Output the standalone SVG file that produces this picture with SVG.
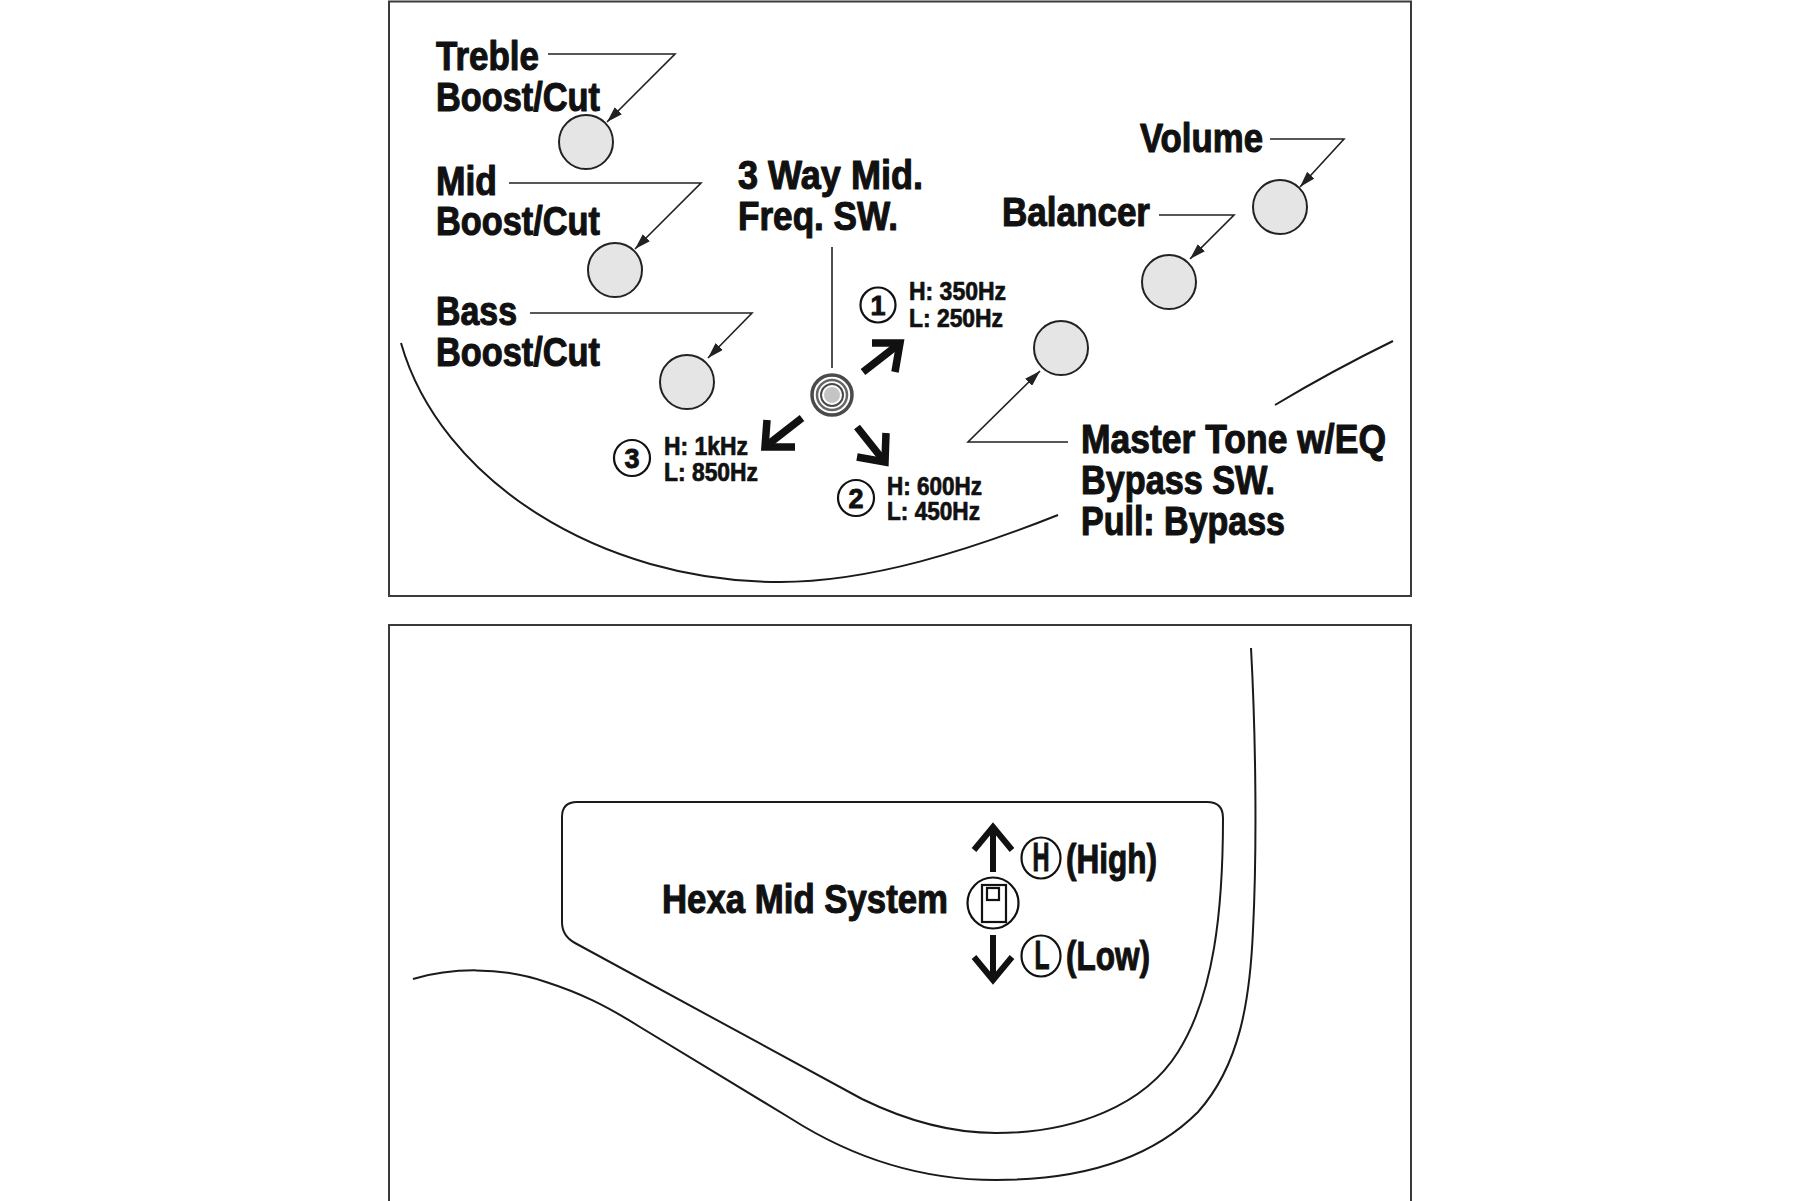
<svg xmlns="http://www.w3.org/2000/svg" width="1800" height="1201" viewBox="0 0 1800 1201">
<defs>
<style>
.frame{fill:none;stroke:#3a3a3a;stroke-width:2}
.body{fill:none;stroke:#1a1a1a;stroke-width:2}
.lbl{font-family:"Liberation Sans Narrow","Liberation Sans",Arial,sans-serif;font-weight:700;font-size:40px;fill:#111;stroke:#111;stroke-width:1.1;stroke-linejoin:round}
.sm{font-family:"Liberation Sans Narrow","Liberation Sans",Arial,sans-serif;font-weight:700;font-size:25px;fill:#111;stroke:#111;stroke-width:0.7;stroke-linejoin:round}
.num{font-family:"Liberation Sans","DejaVu Sans",sans-serif;font-weight:700;font-size:27px;fill:#111;stroke:#111;stroke-width:0.9}
.knob{fill:#e5e5e5;stroke:#222;stroke-width:2}
.lead{fill:none;stroke:#222;stroke-width:1.6}
.thick{fill:none;stroke:#111;stroke-width:7.5;stroke-linejoin:miter;stroke-linecap:butt}
.thin{fill:none;stroke:#111;stroke-width:2.2}
</style>
<marker id="ah" viewBox="0 0 16 10" refX="16" refY="5" markerWidth="16" markerHeight="10" markerUnits="userSpaceOnUse" orient="auto">
<path d="M0,0 L16,5 L0,10 Z" fill="#222"/>
</marker>
</defs>
<rect x="0" y="0" width="1800" height="1201" fill="#fff"/>

<g id="top-panel">
<rect class="frame" x="389" y="1.5" width="1022" height="594.5"/>
<path class="body" d="M401,343 C440,480 600,582 780,582 C870,582 970,550 1058,515"/>
<path class="body" d="M1275,405 C1310,384 1350,362 1393,341"/>
</g>

<g id="connectors">
<path class="lead" d="M548,54 H675 L607,122" marker-end="url(#ah)"/>
<path class="lead" d="M509,183 H701 L635,249" marker-end="url(#ah)"/>
<path class="lead" d="M530,313 H752 L708,358" marker-end="url(#ah)"/>
<path class="lead" d="M1270,139 H1344 L1300,187" marker-end="url(#ah)"/>
<path class="lead" d="M1159,215 H1234 L1190,259" marker-end="url(#ah)"/>
<path class="lead" d="M1068,442 H968 L1040,371" marker-end="url(#ah)"/>
<path class="lead" d="M832,247 V368"/>
</g>

<g id="treble">
<circle class="knob" cx="586" cy="142" r="27"/>
<text class="lbl" x="436" y="70" textLength="103" lengthAdjust="spacingAndGlyphs">Treble</text>
<text class="lbl" x="436" y="111" textLength="164" lengthAdjust="spacingAndGlyphs">Boost/Cut</text>
</g>
<g id="mid">
<circle class="knob" cx="615" cy="270" r="27"/>
<text class="lbl" x="436" y="195" textLength="61" lengthAdjust="spacingAndGlyphs">Mid</text>
<text class="lbl" x="436" y="235" textLength="164" lengthAdjust="spacingAndGlyphs">Boost/Cut</text>
</g>
<g id="bass">
<circle class="knob" cx="687" cy="382" r="27"/>
<text class="lbl" x="436" y="325" textLength="81" lengthAdjust="spacingAndGlyphs">Bass</text>
<text class="lbl" x="436" y="366" textLength="164" lengthAdjust="spacingAndGlyphs">Boost/Cut</text>
</g>
<g id="volume">
<circle class="knob" cx="1280" cy="207" r="27"/>
<text class="lbl" x="1140" y="152" textLength="123" lengthAdjust="spacingAndGlyphs">Volume</text>
</g>
<g id="balancer">
<circle class="knob" cx="1169" cy="282" r="27"/>
<text class="lbl" x="1002" y="226" textLength="148" lengthAdjust="spacingAndGlyphs">Balancer</text>
</g>
<g id="master-tone">
<circle class="knob" cx="1061" cy="348" r="27"/>
<text class="lbl" x="1081" y="453" textLength="305" lengthAdjust="spacingAndGlyphs">Master Tone w/EQ</text>
<text class="lbl" x="1081" y="494" textLength="194" lengthAdjust="spacingAndGlyphs">Bypass SW.</text>
<text class="lbl" x="1081" y="535" textLength="204" lengthAdjust="spacingAndGlyphs">Pull: Bypass</text>
</g>

<g id="three-way-switch">
<text class="lbl" x="738" y="189" textLength="185" lengthAdjust="spacingAndGlyphs">3 Way Mid.</text>
<text class="lbl" x="738" y="230" textLength="160" lengthAdjust="spacingAndGlyphs">Freq. SW.</text>
<circle cx="832" cy="395" r="20" fill="none" stroke="#4a4a4a" stroke-width="3.5"/>
<circle cx="832" cy="395" r="15" fill="none" stroke="#666" stroke-width="2.5"/>
<circle cx="832" cy="395" r="11" fill="none" stroke="#4a4a4a" stroke-width="2"/>
<circle cx="832" cy="395" r="8" fill="#c4c4c4"/>
</g>

<g id="pos1">
<path class="thick" d="M863,372 L899,344"/>
<path class="thick" d="M872,343 L900,343 L895,372"/>
<circle class="thin" cx="878" cy="305" r="17.5"/>
<text class="num" x="878" y="315" text-anchor="middle">1</text>
<text class="sm" x="909" y="300" textLength="97" lengthAdjust="spacingAndGlyphs">H: 350Hz</text>
<text class="sm" x="909" y="327" textLength="94" lengthAdjust="spacingAndGlyphs">L: 250Hz</text>
</g>
<g id="pos2">
<path class="thick" d="M857,427 L884,461"/>
<path class="thick" d="M857,457 L885,462 L886,433"/>
<circle class="thin" cx="856" cy="498" r="18"/>
<text class="num" x="856" y="508" text-anchor="middle">2</text>
<text class="sm" x="887" y="495" textLength="95" lengthAdjust="spacingAndGlyphs">H: 600Hz</text>
<text class="sm" x="887" y="520" textLength="93" lengthAdjust="spacingAndGlyphs">L: 450Hz</text>
</g>
<g id="pos3">
<path class="thick" d="M802,418 L766,446"/>
<path class="thick" d="M767,420 L765,447 L795,447"/>
<circle class="thin" cx="632" cy="458" r="18"/>
<text class="num" x="632" y="468" text-anchor="middle">3</text>
<text class="sm" x="664" y="455" textLength="84" lengthAdjust="spacingAndGlyphs">H: 1kHz</text>
<text class="sm" x="664" y="481" textLength="94" lengthAdjust="spacingAndGlyphs">L: 850Hz</text>
</g>

<g id="bottom-panel">
<path class="frame" d="M389,1201 V625 H1411 V1201"/>
<path class="body" d="M413,979 C450,968 500,966 546,982 C580,993 605,1005 640,1027 L790,1118 C840,1150 910,1180 996,1180 C1080,1180 1150,1160 1198,1112 C1240,1065 1250,1000 1253,930 C1257,850 1256,740 1251,648"/>
<path class="body" d="M577,802 H1207 Q1223,802 1223,818 C1223,910 1214,995 1178,1052 C1145,1105 1075,1133 996,1133 C950,1133 905,1120 862,1099 L575,943 Q562,936 562,922 V817 Q562,802 577,802 Z"/>
</g>

<g id="hexa-mid">
<text class="lbl" x="662" y="913" textLength="286" lengthAdjust="spacingAndGlyphs">Hexa Mid System</text>
<circle class="thin" cx="993" cy="903" r="25.5"/>
<rect class="thin" x="982" y="885" width="24" height="37"/>
<rect class="thin" x="987" y="888" width="12" height="12"/>
<path fill="none" stroke="#111" stroke-width="6" d="M993,872 V828"/>
<path fill="none" stroke="#111" stroke-width="6" d="M974,850 L993,827 L1012,850"/>
<path fill="none" stroke="#111" stroke-width="6" d="M993,935 V978"/>
<path fill="none" stroke="#111" stroke-width="6" d="M974,957 L993,980 L1012,957"/>
<ellipse class="thin" cx="1041" cy="858" rx="19.5" ry="20.5"/>
<text class="lbl" x="1041" y="871" text-anchor="middle" font-size="36" textLength="17" lengthAdjust="spacingAndGlyphs">H</text>
<text class="lbl" x="1066" y="873" textLength="91" lengthAdjust="spacingAndGlyphs">(High)</text>
<ellipse class="thin" cx="1041" cy="956" rx="19.5" ry="20.5"/>
<text class="lbl" x="1042" y="969" text-anchor="middle" font-size="36" textLength="15" lengthAdjust="spacingAndGlyphs">L</text>
<text class="lbl" x="1066" y="970" textLength="84" lengthAdjust="spacingAndGlyphs">(Low)</text>
</g>
</svg>
